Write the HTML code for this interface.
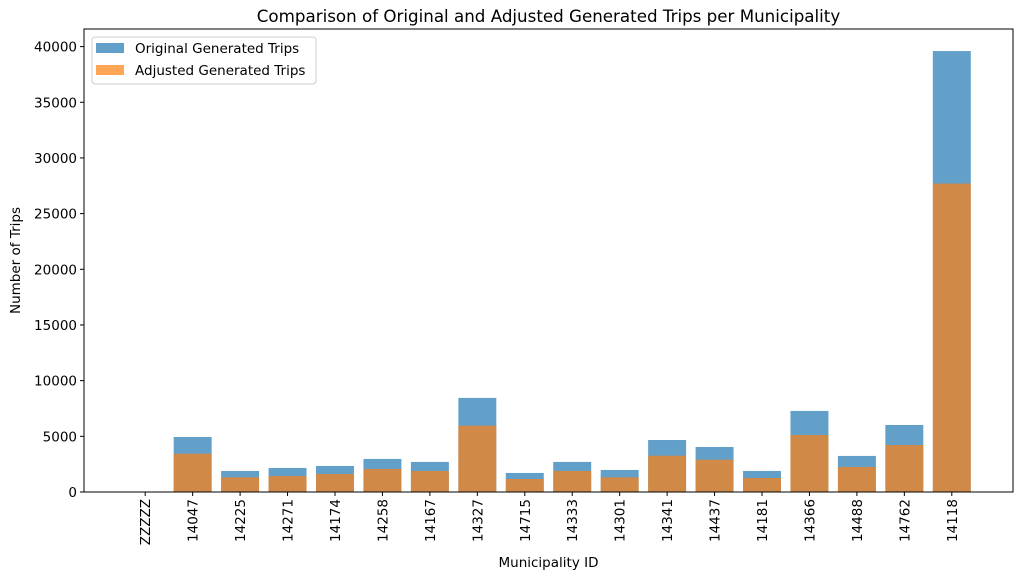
<!DOCTYPE html>
<html><head><meta charset="utf-8"><style>
body{margin:0;background:#fff;}
svg{display:block;font-family:"DejaVu Sans","Liberation Sans",sans-serif;}
</style></head><body>
<svg id="chart" width="1023" height="579"></svg>
<script>
const categories=["ZZZZZ","14047","14225","14271","14174","14258","14167","14327","14715","14333","14301","14341","14437","14181","14366","14488","14762","14118"];
const originalTrips=[0,4940,1890,2160,2340,2970,2700,8450,1710,2700,1980,4670,4040,1890,7280,3240,6020,39600];
const adjustedTrips=[0,3440,1320,1440,1620,2070,1890,5960,1170,1890,1320,3260,2900,1260,5120,2250,4220,27700];
const yTicks=[0,5000,10000,15000,20000,25000,30000,35000,40000];

const NS="http://www.w3.org/2000/svg";
const svg=document.getElementById('chart');
const L=84,R=1013,T=29,B=492;
const n=categories.length;
const xmin=-1.29,xmax=n-1+1.29;
const ymax=Math.max(...originalTrips)*1.05;
const x=i=>L+(i-xmin)/(xmax-xmin)*(R-L);
const y=v=>B-v/ymax*(B-T);
const bw=0.8*(R-L)/(xmax-xmin);
function el(tag,attrs,parent){const e=document.createElementNS(NS,tag);for(const k in attrs)e.setAttribute(k,attrs[k]);(parent||svg).appendChild(e);return e;}

const g1=el('g',{});


originalTrips.forEach((v,i)=>{const r=el('rect',{x:x(i)-bw/2,y:y(v),width:bw,height:B-y(v),fill:'#1f77b4','fill-opacity':0.7},g1);

});
const g2=el('g',{});


adjustedTrips.forEach((v,i)=>{const r=el('rect',{x:x(i)-bw/2,y:y(v),width:bw,height:B-y(v),fill:'#ff7f0e','fill-opacity':0.7},g2);

});

const frame=el('rect',{x:L,y:T,width:R-L,height:B-T,fill:'none',stroke:'#000','stroke-width':1});



yTicks.forEach(t=>{const yy=y(t);el('line',{x1:L-4,x2:L,y1:yy,y2:yy,stroke:'#000'});
const tx=el('text',{x:L-7,y:yy+5,'text-anchor':'end','font-size':13.5});tx.textContent=t;

});
categories.forEach((c,i)=>{const xx=x(i);el('line',{x1:xx,x2:xx,y1:B,y2:B+4,stroke:'#000'});
const tx=el('text',{x:xx+5,y:B+7,'text-anchor':'end','font-size':13.5,transform:`rotate(-90 ${xx+5} ${B+7})`});tx.textContent=c;

});

let t=el('text',{x:(L+R)/2,y:22,'text-anchor':'middle','font-size':16.7});t.textContent='Comparison of Original and Adjusted Generated Trips per Municipality';


t=el('text',{x:(L+R)/2,y:567,'text-anchor':'middle','font-size':13.5});t.textContent='Municipality ID';


t=el('text',{x:20,y:(T+B)/2,'text-anchor':'middle','font-size':13.5,transform:`rotate(-90 20 ${(T+B)/2})`});t.textContent='Number of Trips';



const lg=el('g',{});


el('rect',{x:92,y:37,width:224,height:47,rx:3,fill:'#fff','fill-opacity':0.8,stroke:'#ccc'},lg);
el('rect',{x:96,y:43,width:28,height:10,fill:'#1f77b4','fill-opacity':0.7},lg);
el('rect',{x:96,y:65,width:28,height:10,fill:'#ff7f0e','fill-opacity':0.7},lg);
t=el('text',{x:135,y:53,'font-size':13.5},lg);t.textContent='Original Generated Trips';


t=el('text',{x:135,y:75,'font-size':13.5},lg);t.textContent='Adjusted Generated Trips';


</script>
</body></html>
